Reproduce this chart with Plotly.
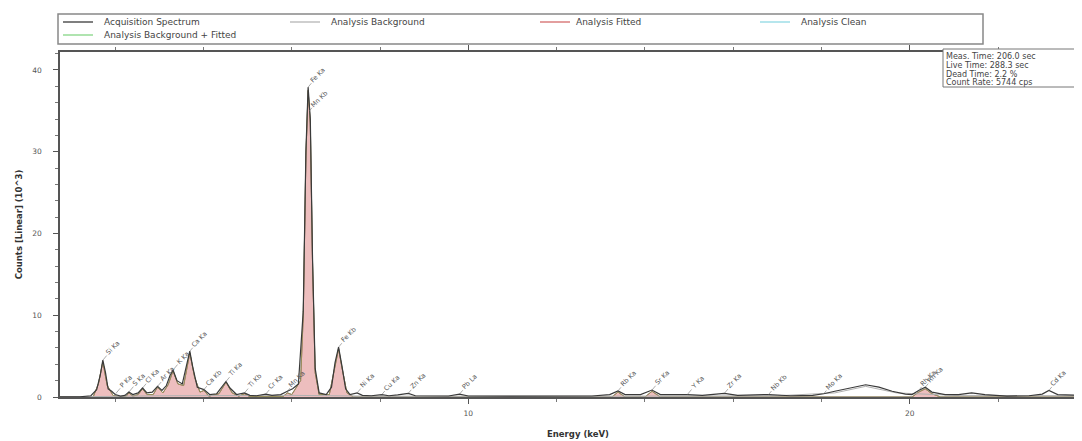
import plotly.graph_objects as go

# ---- data (energy in keV, counts in 10^3) ----
acq_energy = [0.75, 1.20, 1.45, 1.58, 1.66, 1.72, 1.78, 1.84, 1.92, 2.00, 2.12, 2.22, 2.31, 2.40,
              2.52, 2.62, 2.72, 2.84, 2.96, 3.06, 3.16, 3.24, 3.31, 3.40, 3.52, 3.62, 3.69, 3.76,
              3.86, 4.01, 4.14, 4.30, 4.42, 4.51, 4.60, 4.75, 4.93, 5.05, 5.20, 5.41, 5.55, 5.75,
              5.90, 6.02, 6.15, 6.26, 6.32, 6.37, 6.42, 6.47, 6.53, 6.62, 6.78, 6.90, 6.98, 7.06,
              7.13, 7.22, 7.32, 7.48, 7.60, 7.80, 8.04, 8.20, 8.40, 8.64, 8.80, 9.20, 9.55, 9.80,
              10.0, 11.0, 12.0, 12.8, 13.2, 13.39, 13.55, 13.9, 14.16, 14.35, 14.96, 15.3, 15.8,
              16.1, 16.8, 17.3, 17.8, 18.05, 18.3, 18.7, 19.0, 19.3, 19.6, 19.9, 20.05, 20.2,
              20.35, 20.5, 20.8, 21.1, 21.4, 21.7, 22.2, 22.7, 23.0, 23.15, 23.35, 23.9]
acq_counts = [0.02, 0.03, 0.15, 0.9, 2.6, 4.5, 3.0, 1.0, 0.7, 0.3, 0.1, 0.2, 0.6, 0.3,
              0.5, 1.1, 0.5, 0.6, 1.3, 0.8, 1.4, 2.6, 3.3, 2.0, 1.6, 3.8, 5.6, 3.6,
              1.2, 0.9, 0.3, 0.4, 1.3, 1.9, 1.1, 0.3, 0.5, 0.2, 0.15, 0.35, 0.2, 0.3,
              0.7, 1.0, 1.6, 10.5, 30.0, 37.9, 34.0, 17.0, 3.5, 0.5, 0.3, 1.2, 4.2, 6.1,
              4.0, 1.0, 0.3, 0.5, 0.2, 0.15, 0.3, 0.15, 0.25, 0.45, 0.15, 0.12, 0.12, 0.35,
              0.12, 0.1, 0.1, 0.12, 0.3, 0.75, 0.3, 0.3, 0.85, 0.3, 0.3, 0.2, 0.45,
              0.2, 0.3, 0.15, 0.2, 0.4, 0.7, 1.2, 1.5, 1.2, 0.7, 0.35, 0.3, 0.8,
              1.2, 0.6, 0.3, 0.3, 0.5, 0.3, 0.1, 0.15, 0.35, 0.8, 0.3, 0.2]

fit_energy = [0.75, 1.50, 1.62, 1.72, 1.82, 1.95, 2.10, 2.25, 2.31, 2.40, 2.52, 2.62, 2.72, 2.86,
              2.96, 3.08, 3.20, 3.31, 3.42, 3.55, 3.69, 3.80, 3.92, 4.01, 4.12, 4.35, 4.51, 4.65,
              4.80, 4.93, 5.05, 5.80, 5.90, 6.00, 6.20, 6.26, 6.32, 6.37, 6.42, 6.47, 6.53, 6.62,
              6.85, 6.98, 7.06, 7.13, 7.25, 7.40, 13.25, 13.39, 13.55, 14.0, 14.16, 14.35, 20.05,
              20.2, 20.35, 20.5, 20.7, 23.9]
fit_counts = [0, 0, 1.6, 4.3, 1.4, 0.2, 0, 0.1, 0.5, 0.1, 0.3, 1.0, 0.3, 0.3,
              1.2, 0.5, 1.5, 3.2, 1.6, 1.4, 5.4, 2.4, 0.6, 0.8, 0.1, 0.4, 1.8, 0.5,
              0.1, 0.4, 0.05, 0.05, 0.5, 0.3, 2.0, 10.0, 29.5, 37.5, 33.5, 16.5, 3.0, 0.3,
              0.3, 4.0, 5.9, 3.8, 0.5, 0, 0, 0.6, 0, 0, 0.7, 0, 0,
              0.6, 1.0, 0.4, 0, 0]

bg_energy = [0.75, 1.5, 3.0, 6.0, 8.0, 13.0, 17.0, 18.3, 19.0, 19.7, 21.0, 23.9]
bg_counts = [0.0, 0.05, 0.15, 0.2, 0.1, 0.1, 0.15, 0.5, 1.3, 0.5, 0.2, 0.15]

peak_label_energy = [1.72, 2.01, 2.31, 2.62, 2.96, 3.31, 3.69, 4.01, 4.51, 4.93, 5.41, 5.90,
                     6.37, 6.40, 7.06, 7.48, 8.04, 8.64, 9.80, 13.39, 14.16, 14.96, 15.8,
                     16.8, 18.05, 20.2, 20.35, 23.15]
peak_label_counts = [4.5, 0.4, 0.6, 1.1, 1.3, 3.3, 5.6, 0.9, 1.9, 0.5, 0.35, 0.7,
                     37.9, 35.0, 6.1, 0.5, 0.3, 0.45, 0.35, 0.75, 0.85, 0.3, 0.45,
                     0.3, 0.4, 0.8, 1.2, 0.8]
peak_label_text = ["Si Ka", "P Ka", "S Ka", "Cl Ka", "Ar Ka", "K Ka", "Ca Ka", "Ca Kb", "Ti Ka",
                   "Ti Kb", "Cr Ka", "Mn Ka", "Fe Ka", "Mn Kb", "Fe Kb", "Ni Ka", "Cu Ka",
                   "Zn Ka", "Pb La", "Rb Ka", "Sr Ka", "Y Ka", "Zr Ka", "Nb Kb", "Mo Ka",
                   "Rh Ka", "Rh Ka", "Cd Ka"]

legend_names = ["Acquisition Spectrum", "Analysis Background", "Analysis Fitted",
                "Analysis Clean", "Analysis Background + Fitted"]
legend_colors = ["#3a3a3a", "#b5b5b5", "#d46a6a", "#8fd8e4", "#86d686"]

stats_lines = ["Meas. Time: 206.0 sec", "Live Time: 288.3 sec", "Dead Time: 2.2 %",
               "Count Rate: 5744 cps"]

FONT = "DejaVu Sans, Liberation Sans, sans-serif"

# layout geometry; the page body adds an 8 px offset, so figure coords = screen coords - 8
OFF = 8
W, H = 1082 - OFF, 441 - OFF
PLOT_L, PLOT_T, PLOT_B = 60, 52, 397          # target screen pixels
ML, MT, MR = PLOT_L - OFF, PLOT_T - OFF, 0
MB = H - (PLOT_B - OFF)
PW, PH = W - ML - MR, H - MT - MB


def px_x(px):
    return (px - PLOT_L) / PW


def px_y(py):
    return (PLOT_B - py) / PH


fig = go.Figure()
fig.add_trace(go.Scatter(x=fit_energy, y=fit_counts, mode="lines", name=legend_names[3],
                         line=dict(color="#7fd3e0", width=1)))
fig.add_trace(go.Scatter(x=fit_energy, y=fit_counts, mode="lines", name=legend_names[2],
                         line=dict(color="#c0392b", width=1), fill="tozeroy",
                         fillcolor="rgba(215,110,110,0.45)"))
fig.add_trace(go.Scatter(x=fit_energy, y=fit_counts, mode="lines", name=legend_names[4],
                         line=dict(color="#7ccf7c", width=0.6)))
fig.add_trace(go.Scatter(x=bg_energy, y=bg_counts, mode="lines", name=legend_names[1],
                         line=dict(color="#b0b0b0", width=1)))
fig.add_trace(go.Scatter(x=acq_energy, y=acq_counts, mode="lines", name=legend_names[0],
                         line=dict(color="#3a3a3a", width=1.2)))

for e, c, t in zip(peak_label_energy, peak_label_counts, peak_label_text):
    fig.add_annotation(x=e, y=c, text=t, textangle=-45, showarrow=True, arrowhead=0,
                       arrowwidth=0.6, arrowcolor="#777", ax=10, ay=-12, standoff=0,
                       font=dict(size=6.5, color="#555", family=FONT))

shapes = []
# custom legend box (drawn manually to get compact rows)
shapes.append(dict(type="rect", xref="paper", yref="paper", x0=px_x(58), x1=px_x(983),
                   y0=px_y(44), y1=px_y(14), line=dict(color="#888", width=1.5),
                   fillcolor="white", layer="above"))
legend_rows = [22, 22, 22, 22, 35]
legend_sample_x = [63, 290, 540, 760, 63]
legend_text_x = [103, 330, 575, 800, 103]
for name, col, ry, sx, tx in zip(legend_names, legend_colors, legend_rows, legend_sample_x,
                                 legend_text_x):
    shapes.append(dict(type="line", xref="paper", yref="paper", x0=px_x(sx), x1=px_x(sx + 30),
                       y0=px_y(ry), y1=px_y(ry), line=dict(color=col, width=1.3),
                       layer="above"))
    fig.add_annotation(xref="paper", yref="paper", x=px_x(tx), y=px_y(ry), xanchor="left",
                       yanchor="middle", text=name, showarrow=False, borderpad=0,
                       font=dict(size=9, color="#444", family=FONT))

# stats box
shapes.append(dict(type="rect", xref="paper", yref="paper", x0=px_x(943), x1=px_x(1100),
                   y0=px_y(87), y1=px_y(49), line=dict(color="#777", width=1),
                   fillcolor="white", layer="above"))
for i, line in enumerate(stats_lines):
    fig.add_annotation(xref="paper", yref="paper", x=px_x(945), y=px_y(56.5 + 8.8 * i),
                       xanchor="left", yanchor="middle", text=line, showarrow=False,
                       borderpad=0, font=dict(size=8, color="#444", family=FONT))

# x axis title placed explicitly
fig.add_annotation(xref="paper", yref="paper", x=px_x(578), y=px_y(434), xanchor="center",
                   yanchor="middle", text="<b>Energy (keV)</b>", showarrow=False,
                   font=dict(size=8.5, color="#333", family=FONT))

fig.update_layout(
    width=W, height=H,
    margin=dict(l=ML, r=MR, t=MT, b=MB, autoexpand=False),
    paper_bgcolor="white", plot_bgcolor="white",
    font=dict(family=FONT, size=8, color="#444"),
    showlegend=False,
    shapes=shapes,
    xaxis=dict(range=[0.75, 23.9], tick0=0, dtick=10, ticks="outside", ticklen=5,
               tickcolor="#555", showline=True, linecolor="#555", linewidth=1.5,
               mirror="ticks", showgrid=False, zeroline=False, ticklabelstandoff=3,
               automargin=False, tickfont=dict(size=7.5, color="#555"),
               minor=dict(dtick=2, ticks="outside", ticklen=3, tickcolor="#777")),
    yaxis=dict(range=[0, 42.2], tick0=0, dtick=10, ticks="outside", ticklen=5,
               tickcolor="#555", showline=True, linecolor="#555", linewidth=1.5,
               mirror="ticks", showgrid=False, zeroline=False, ticklabelstandoff=10,
               automargin=False, tickfont=dict(size=7.5, color="#555"),
               minor=dict(dtick=2, ticks="outside", ticklen=3, tickcolor="#777"),
               title=dict(text="<b>Counts [Linear] (10^3)</b>",
                          font=dict(size=8.5, color="#333"), standoff=8)),
)

fig.write_html("out.html")
